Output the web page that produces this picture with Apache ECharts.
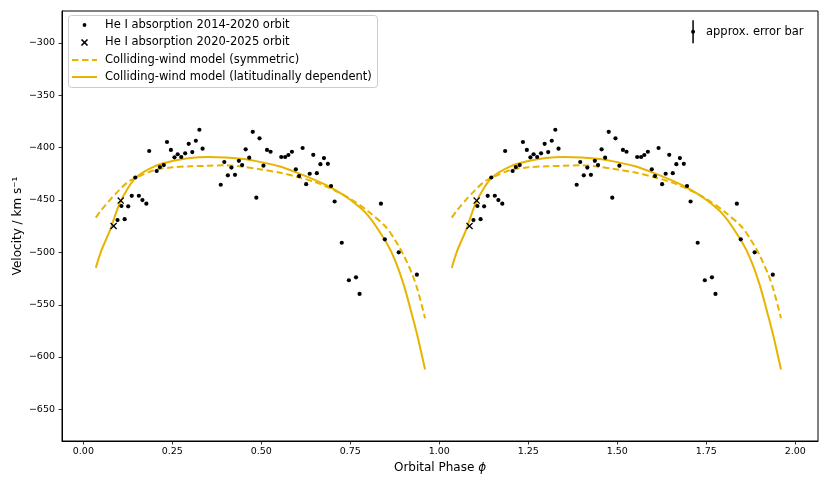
<!DOCTYPE html>
<html>
<head>
<meta charset="utf-8">
<script src="https://cdn.jsdelivr.net/npm/echarts@6/dist/echarts.min.js"></script>
<style>html,body{margin:0;padding:0;background:#fff}#c{width:830px;height:485px}</style>
</head>
<body>
<div id="c"></div>
<script>
// He I absorption 2014-2020 orbit (phase, velocity)
const phase14 = [0.096,0.116,0.107,0.126,0.136,0.156,0.166,0.177,0.146,0.185,0.206,0.215,0.226,0.235,0.246,0.256,0.265,0.275,0.286,0.296,0.306,0.316,0.326,0.335,0.386,0.396,0.406,0.416,0.426,0.437,0.446,0.456,0.466,0.476,0.486,0.495,0.506,0.516,0.526,0.556,0.567,0.576,0.586,0.597,0.606,0.616,0.626,0.636,0.646,0.656,0.666,0.676,0.687,0.696,0.706,0.726,0.746,0.766,0.776,0.836,0.847,0.886,0.937];
const vel14 = [-469.3,-468.5,-455.9,-456.2,-446.2,-446.1,-450.2,-453.7,-428.7,-403.4,-422.5,-418.7,-416.8,-394.8,-402.4,-409.4,-406.5,-409.1,-405.6,-396.5,-404.4,-393.6,-383.1,-401.2,-435.6,-413.9,-426.6,-419.2,-426.1,-412.8,-416.8,-401.8,-409.8,-385.1,-448.0,-391.3,-417.4,-402.4,-404.1,-409.1,-409.1,-407.2,-404.1,-420.9,-427.3,-400.5,-435.1,-425.1,-407.0,-424.6,-416.0,-410.1,-415.6,-436.8,-451.6,-491.0,-526.8,-524.0,-539.9,-453.7,-487.7,-500.1,-521.5];
// He I absorption 2020-2025 orbit
const phase20 = [0.085,0.105];
const vel20 = [-475.0,-450.7];
// model curves
const modelPhase = [0.035,0.05,0.075,0.1,0.125,0.15,0.2,0.25,0.3,0.35,0.4,0.45,0.5,0.55,0.6,0.65,0.7,0.75,0.8,0.85,0.875,0.9,0.925,0.94,0.96];
const symVel = [-467,-460,-450,-441,-433,-428.5,-421.5,-419,-418,-417.5,-417,-418.5,-421,-424,-428,-433,-440,-449,-461,-476,-488,-503,-522,-537,-563];
const latVel = [-515,-499,-479,-455,-439,-428,-418,-413,-410,-409,-409.5,-411,-414,-418,-424,-431,-439,-450,-465,-490,-507,-531,-562,-582,-612];
// approx. error bar
const errX = 1.713, errY = -289.5, errHalf = 11;
// tick values
const xTicks = [0,0.25,0.5,0.75,1,1.25,1.5,1.75,2];
const yTicks = [-650,-600,-550,-500,-450,-400,-350,-300];

const GOLD = '#E8B400';
const FONT = 'DejaVu Sans';
const periods = [0,1];

function pts(ph, v){ const out=[]; periods.forEach(k=>ph.forEach((p,i)=>out.push([p+k, v[i]]))); return out; }
function curve(ph, v, k){ return ph.map((p,i)=>[p+k, v[i]]); }

const series = [];
periods.forEach(k=>{
  series.push({type:'line', data:curve(modelPhase,symVel,k), smooth:0.3, showSymbol:false, silent:true,
    lineStyle:{color:GOLD, width:2, type:[6.5,3.5]}, z:2});
  series.push({type:'line', data:curve(modelPhase,latVel,k), smooth:0.3, showSymbol:false, silent:true,
    lineStyle:{color:GOLD, width:2}, z:2});
});
series.push({type:'scatter', data:pts(phase14,vel14), symbol:'circle', symbolSize:4.2, itemStyle:{color:'#000', opacity:1}, z:5});
const XPATH = 'path://M0,1.3 L1.3,0 L5,3.7 L8.7,0 L10,1.3 L6.3,5 L10,8.7 L8.7,10 L5,6.3 L1.3,10 L0,8.7 L3.7,5 Z';
series.push({type:'scatter', data:pts(phase20,vel20), symbol:XPATH, symbolSize:7, itemStyle:{color:'#000', opacity:1}, z:6});
series.push({type:'line', data:[[errX,errY+errHalf],[errX,errY-errHalf]], showSymbol:false, silent:true, lineStyle:{color:'#000',width:1.5}, z:6});
series.push({type:'scatter', data:[[errX,errY]], symbolSize:4, itemStyle:{color:'#000', opacity:1}, z:6});

const fmtMinus = v => String(v).replace('-', '\u2212');

const legendItems = [
  {y:25, text:'He I absorption 2014-2020 orbit'},
  {y:42.5, text:'He I absorption 2020-2025 orbit'},
  {y:60, text:'Colliding-wind model (symmetric)'},
  {y:77, text:'Colliding-wind model (latitudinally dependent)'}
];
const graphic = [
  {type:'rect', shape:{x:68.5,y:15.5,width:309,height:72,r:3}, style:{fill:'rgba(255,255,255,0.8)', stroke:'#cccccc', lineWidth:1}, z:10},
  {type:'circle', shape:{cx:84.5,cy:25,r:1.9}, style:{fill:'#000'}, z:11},
  {type:'line', shape:{x1:81.5,y1:39.5,x2:87.5,y2:45.5}, style:{stroke:'#000', lineWidth:1.6}, z:11},
  {type:'line', shape:{x1:87.5,y1:39.5,x2:81.5,y2:45.5}, style:{stroke:'#000', lineWidth:1.6}, z:11},
  {type:'line', shape:{x1:72,y1:60,x2:97,y2:60}, style:{stroke:GOLD, lineWidth:2, lineDash:[6.5,3.5]}, z:11},
  {type:'line', shape:{x1:72,y1:77,x2:97,y2:77}, style:{stroke:GOLD, lineWidth:2}, z:11},
  {type:'text', x:706, y:32, style:{text:'approx. error bar', font:'11.5px "DejaVu Sans"', fill:'#000', verticalAlign:'middle'}, z:11}
];
legendItems.forEach(it=>graphic.push({type:'text', x:105, y:it.y, style:{text:it.text, font:'11.5px "DejaVu Sans"', fill:'#000', verticalAlign:'middle'}, z:11}));

const GRID_LEFT = 62;
const chart = echarts.init(document.getElementById('c'), null, {renderer:'canvas'});
chart.setOption({
  animation:false,
  backgroundColor:'#fff',
  grid:{left:GRID_LEFT, top:11, right:12, bottom:44, show:true, borderColor:'#000', borderWidth:1, backgroundColor:'transparent'},
  xAxis:{type:'value', min:-0.06, max:2.064, position:'bottom',
    name:'Orbital Phase {i|\u03D5}', nameLocation:'middle', nameGap:19,
    nameTextStyle:{fontFamily:FONT, fontSize:12, color:'#000', rich:{i:{fontFamily:FONT, fontSize:12, fontStyle:'italic', color:'#000'}}},
    axisLine:{show:true, onZero:false, lineStyle:{color:'#000', width:1}}, splitLine:{show:false},
    axisTick:{show:true, customValues:xTicks, length:3.5, lineStyle:{color:'#000', width:0.8}},
    axisLabel:{customValues:xTicks, formatter:v=>v.toFixed(2), fontFamily:FONT, fontSize:9.5, color:'#000', margin:6}
  },
  yAxis:{type:'value', min:-680.3, max:-269.7, position:'left',
    name:'Velocity / km s\u207B\u00B9', nameLocation:'middle', nameGap:38, nameRotate:90, nameMoveOverlap:false,
    nameTextStyle:{fontFamily:FONT, fontSize:12, color:'#000'},
    axisLine:{show:true, onZero:false, lineStyle:{color:'#000', width:1}}, splitLine:{show:false},
    axisTick:{show:false},
    axisLabel:{customValues:yTicks, formatter:fmtMinus, fontFamily:FONT, fontSize:9.5, color:'#000', margin:7}
  },
  graphic: graphic,
  series: series
});
// y tick marks positioned through the axis scale
const tickGraphics = yTicks.map(v=>{
  const py = Math.round(chart.convertToPixel({yAxisIndex:0}, v)) + 0.5;
  return {type:'line', shape:{x1:GRID_LEFT-3.5, y1:py, x2:GRID_LEFT, y2:py}, style:{stroke:'#000', lineWidth:0.8}, z:12};
});
chart.setOption({graphic: graphic.concat(tickGraphics)});
</script>
</body>
</html>
